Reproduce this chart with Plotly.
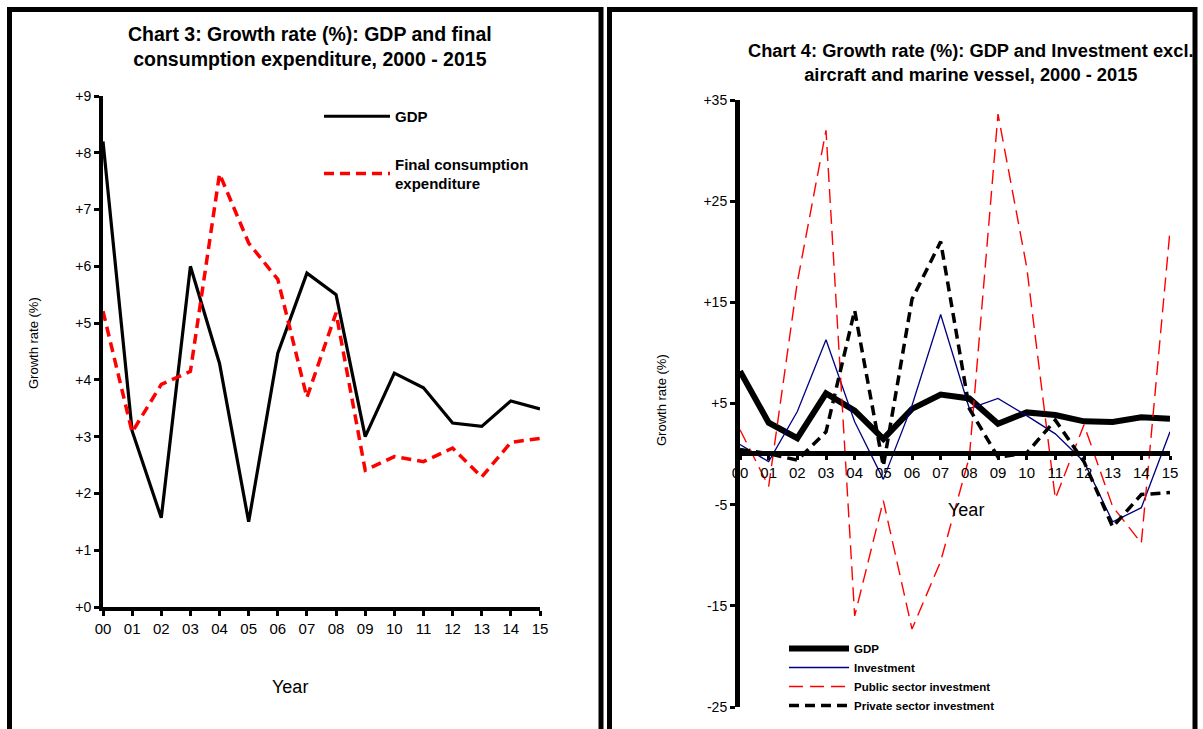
import plotly.graph_objects as go

# ---- data -------------------------------------------------------------
years = list(range(16))
year_labels = ["00", "01", "02", "03", "04", "05", "06", "07",
               "08", "09", "10", "11", "12", "13", "14", "15"]

gdp = [8.2, 3.1, 1.57, 6.0, 4.29, 1.5, 4.47, 5.88,
       5.5, 3.0, 4.12, 3.86, 3.24, 3.18, 3.63, 3.49]
final_consumption = [5.21, 3.08, 3.92, 4.15, 7.63, 6.41, 5.77, 3.69,
                     5.18, 2.41, 2.65, 2.56, 2.8, 2.29, 2.9, 2.97]

investment = [0.95, -0.75, 4.2, 11.3, 3.2, -2.5, 4.8, 13.8,
              4.5, 5.5, 3.8, 2.0, -0.75, -6.7, -5.3, 2.2]
public_investment = [2.4, -3.2, 17.0, 32.0, -16.0, -4.6, -17.3, -10.6,
                     -0.3, 33.6, 18.5, -4.4, 2.9, -5.2, -8.8, 22.1]
private_investment = [0.45, 0.05, -0.6, 2.2, 14.2, -1.2, 15.3, 21.0,
                      4.5, -0.3, 0.1, 3.35, -0.75, -7.2, -4.0, -3.8]

left_ticks = [0, 1, 2, 3, 4, 5, 6, 7, 8, 9]
left_ticktext = ["+0", "+1", "+2", "+3", "+4", "+5", "+6", "+7", "+8", "+9"]
right_ticks = [-25, -15, -5, 5, 15, 25, 35]
right_ticktext = ["-25", "-15", "-5", "+5", "+15", "+25", "+35"]

# ---- page geometry (pixels) ------------------------------------------
W, H = 1203, 729
FONT = "Liberation Sans, Arial, sans-serif"


def px(x):
    return x / W


def py(y):
    return 1 - y / H


fig = go.Figure()

# Chart 3 -------------------------------------------------------------
fig.add_trace(go.Scatter(
    x=years, y=gdp, mode="lines", name="GDP", legendgroup="c3_gdp",
    line=dict(color="black", width=3.2), xaxis="x", yaxis="y",
    legend="legend"))
fig.add_trace(go.Scatter(
    x=years, y=final_consumption, mode="lines",
    name="Final consumption<br>expenditure", legendgroup="c3_fce",
    line=dict(color="#FF0000", width=3.5, dash="10px,6px"),
    xaxis="x", yaxis="y", legend="legend"))

# Chart 4 -------------------------------------------------------------
fig.add_trace(go.Scatter(
    x=years, y=gdp, mode="lines", name="GDP",
    line=dict(color="black", width=6), xaxis="x2", yaxis="y2",
    legend="legend2"))
fig.add_trace(go.Scatter(
    x=years, y=investment, mode="lines", name="Investment",
    line=dict(color="#000080", width=1.3), xaxis="x2", yaxis="y2",
    legend="legend2"))
fig.add_trace(go.Scatter(
    x=years, y=public_investment, mode="lines",
    name="Public sector investment",
    line=dict(color="#FF0000", width=1.4, dash="14px,7px"),
    xaxis="x2", yaxis="y2", legend="legend2"))
fig.add_trace(go.Scatter(
    x=years, y=private_investment, mode="lines",
    name="Private sector investment",
    line=dict(color="black", width=3.5, dash="10px,6px"),
    xaxis="x2", yaxis="y2", legend="legend2"))

axis_font = dict(family=FONT, size=15, color="black")
ytick_font = dict(family=FONT, size=14, color="black")

fig.update_layout(
    width=W, height=H,
    margin=dict(l=0, r=0, t=0, b=0),
    paper_bgcolor="white", plot_bgcolor="white",
    font=dict(family=FONT, color="black"),
    showlegend=True,
    xaxis=dict(
        domain=[px(103), px(540)], range=[0, 15], anchor="y",
        automargin=False,
        tickmode="array", tickvals=years, ticktext=year_labels,
        showline=True, linecolor="black", linewidth=4,
        ticks="outside", ticklen=5, tickwidth=3, tickcolor="black",
        showgrid=False, zeroline=False, tickfont=axis_font),
    yaxis=dict(
        domain=[py(607), py(96)], range=[0, 9], anchor="x",
        automargin=False,
        tickmode="array", tickvals=left_ticks, ticktext=left_ticktext,
        showline=True, linecolor="black", linewidth=4,
        ticks="outside", ticklen=5, tickwidth=3, tickcolor="black",
        showgrid=False, zeroline=False, tickfont=ytick_font),
    xaxis2=dict(
        domain=[px(740), px(1170)], range=[0, 15], anchor="free",
        position=py(453), automargin=False,
        tickmode="array", tickvals=years, ticktext=year_labels,
        showline=True, linecolor="black", linewidth=5,
        ticks="outside", ticklen=4, tickwidth=3, tickcolor="black",
        showgrid=False, zeroline=False, tickfont=axis_font),
    yaxis2=dict(
        domain=[py(707), py(100)], range=[-25, 35], anchor="x2",
        automargin=False,
        tickmode="array", tickvals=right_ticks, ticktext=right_ticktext,
        showline=True, linecolor="black", linewidth=5,
        ticks="outside", ticklen=5, tickwidth=3, tickcolor="black",
        showgrid=False, zeroline=False, tickfont=ytick_font),
    legend=dict(
        x=px(319), y=py(100), xanchor="left", yanchor="top",
        bgcolor="rgba(0,0,0,0)", borderwidth=0,
        font=dict(family=FONT, size=15, color="black", weight="bold"),
        tracegroupgap=25, itemwidth=66),
    legend2=dict(
        x=px(784), y=py(634), xanchor="left", yanchor="top",
        bgcolor="rgba(0,0,0,0)", borderwidth=0,
        font=dict(family=FONT, size=11.5, color="black", weight="bold"),
        tracegroupgap=0, itemwidth=60),
)

# Titles, axis titles
annotations = [
    dict(text="<b>Chart 3: Growth rate (%): GDP and final<br>"
              "consumption expenditure, 2000 - 2015</b>",
         x=px(310), y=py(46), font=dict(family=FONT, size=19.5)),
    dict(text="<b>Chart 4: Growth rate (%): GDP and Investment excl.<br>"
              "aircraft and marine vessel, 2000 - 2015</b>",
         x=px(971), y=py(63), font=dict(family=FONT, size=18.3)),
    dict(text="Year", x=px(290), y=py(687), font=dict(family=FONT, size=18)),
    dict(text="Year", x=px(966), y=py(510), font=dict(family=FONT, size=18)),
    dict(text="Growth rate (%)", x=px(33), y=py(343), textangle=-90,
         font=dict(family=FONT, size=13)),
    dict(text="Growth rate (%)", x=px(661), y=py(400), textangle=-90,
         font=dict(family=FONT, size=13)),
]
for a in annotations:
    a.update(xref="paper", yref="paper", showarrow=False,
             xanchor="center", yanchor="middle")
fig.update_layout(annotations=annotations)

# Panel frames
frame = dict(type="rect", xref="paper", yref="paper",
             line=dict(color="black", width=5), fillcolor="rgba(0,0,0,0)")
fig.update_layout(shapes=[
    dict(frame, x0=px(9.5), x1=px(601), y0=py(760), y1=py(9.5)),
    dict(frame, x0=px(609.5), x1=px(1195), y0=py(760), y1=py(9.5)),
])

fig.write_html("out.html")
